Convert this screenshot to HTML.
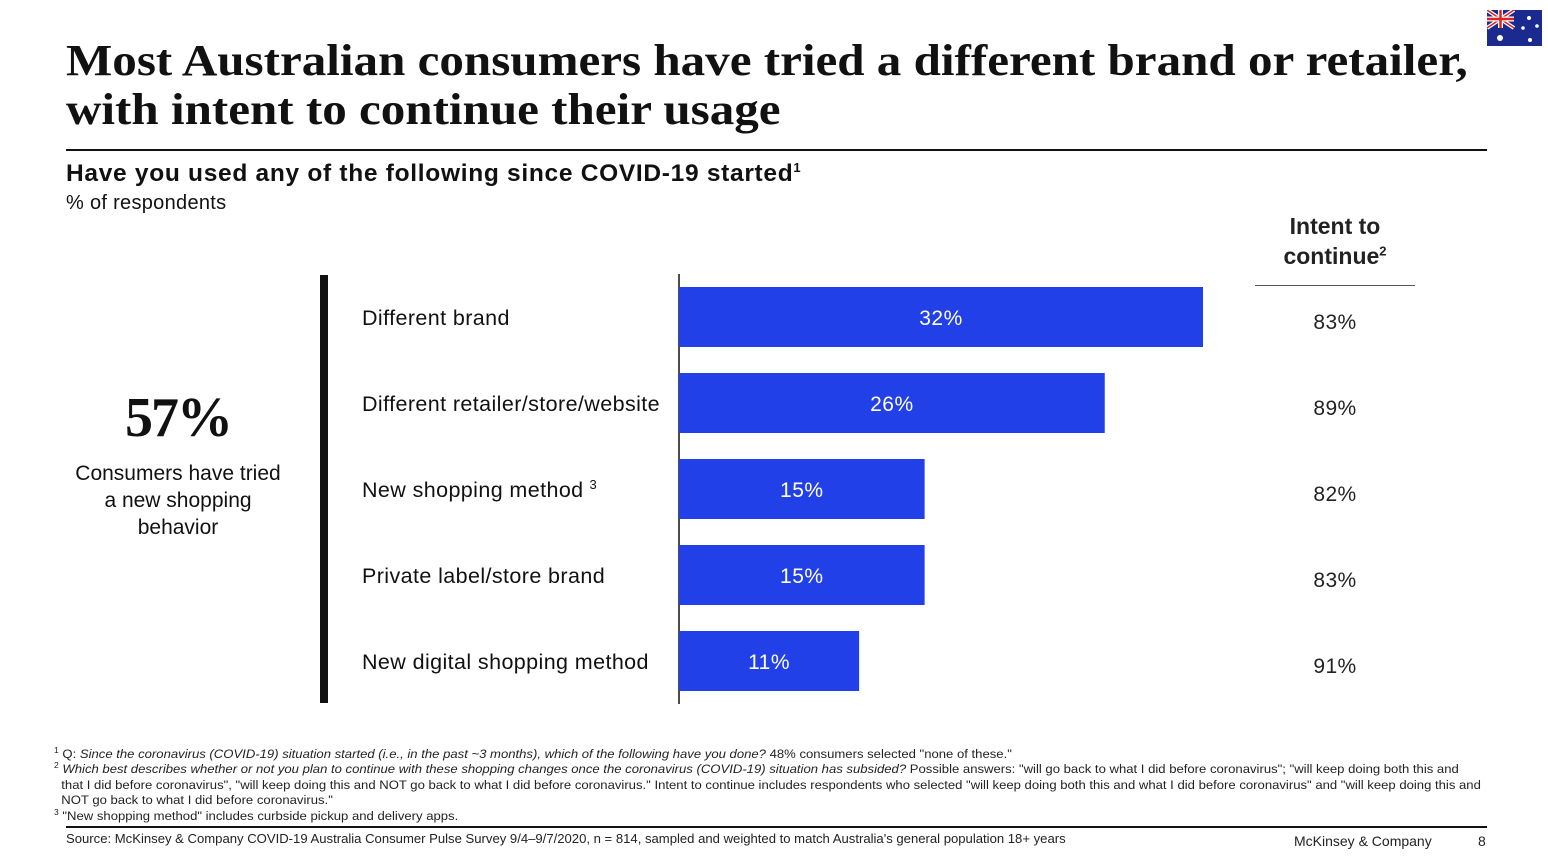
<!DOCTYPE html>
<html><head><meta charset="utf-8"><style>
body{margin:0;width:1548px;height:864px;background:#fff;position:relative;overflow:hidden;font-family:"Liberation Sans",Arial,sans-serif;color:#111}
.a{position:absolute;white-space:nowrap}
.title{left:66px;top:36px;font-family:"Liberation Serif",serif;font-weight:bold;font-size:44px;line-height:49px;color:#111;transform:scaleX(1.115);transform-origin:left top}
.fn{font-size:12.3px;line-height:15.5px;color:#222;letter-spacing:0;transform:scaleX(1.065);transform-origin:left top}
</style></head><body>
<div class="a title">Most Australian consumers have tried a different brand or retailer,<br>with intent to continue their usage</div>
<svg class="a" style="left:1487px;top:10px" width="55" height="36">
<rect width="55" height="36" fill="#1b2a8f"/>
<path d="M0 0L27 18M27 0L0 18" stroke="#fff" stroke-width="4"/>
<path d="M0 0L27 18M27 0L0 18" stroke="#d22" stroke-width="1.5"/>
<path d="M13.5 0V18M0 9H27" stroke="#fff" stroke-width="5"/>
<path d="M13.5 0V18M0 9H27" stroke="#d22" stroke-width="2.5"/>
<circle cx="13" cy="28" r="3" fill="#fff"/><circle cx="42" cy="8" r="2" fill="#fff"/><circle cx="36" cy="18" r="1.8" fill="#fff"/><circle cx="50" cy="16" r="1.8" fill="#fff"/><circle cx="43" cy="30" r="2" fill="#fff"/>
</svg>
<div class="a" style="left:66px;top:149px;width:1421px;height:1.5px;background:#111"></div>
<div class="a" style="left:66px;top:160px;font-size:24.5px;font-weight:bold;letter-spacing:0.7px">Have you used any of the following since COVID-19 started<sup style="font-size:13px">1</sup></div>
<div class="a" style="left:66px;top:192px;font-size:20px;letter-spacing:0.3px">% of respondents</div>
<div class="a" style="left:1256px;top:211px;width:158px;text-align:center;font-size:23px;font-weight:bold;line-height:30px;color:#222;white-space:normal">Intent to continue<sup style="font-size:13px;line-height:0">2</sup></div>
<div class="a" style="left:1255px;top:285px;width:160px;height:1px;background:#555"></div>
<div class="a" style="left:66px;top:386px;width:224px;text-align:center;font-family:'Liberation Serif',serif;font-weight:bold;font-size:56px;letter-spacing:-2px">57%</div>
<div class="a" style="left:66px;top:460px;width:224px;text-align:center;font-size:21px;line-height:27px;white-space:normal">Consumers have tried<br>a new shopping<br>behavior</div>
<div class="a" style="left:320px;top:275px;width:8px;height:428px;background:#111"></div>
<svg id="ch" class="a" style="left:0;top:0" width="1548" height="864"></svg>
<div class="a fn" style="left:54px;top:743px"><sup style="font-size:8px">1</sup> Q: <i>Since the coronavirus (COVID-19) situation started (i.e., in the past ~3 months), which of the following have you done?</i> 48% consumers selected "none of these."</div>
<div class="a fn" style="left:54px;top:758px"><sup style="font-size:8px">2</sup> <i>Which best describes whether or not you plan to continue with these shopping changes once the coronavirus (COVID-19) situation has subsided?</i> Possible answers: "will go back to what I did before coronavirus"; "will keep doing both this and<br>&nbsp; that I did before coronavirus", "will keep doing this and NOT go back to what I did before coronavirus." Intent to continue includes respondents who selected "will keep doing both this and what I did before coronavirus" and "will keep doing this and<br>&nbsp; NOT go back to what I did before coronavirus."</div>
<div class="a fn" style="left:54px;top:805px"><sup style="font-size:8px">3</sup> "New shopping method" includes curbside pickup and delivery apps.</div>
<div class="a" style="left:66px;top:826px;width:1421px;height:1.5px;background:#111"></div>
<div class="a" style="left:66px;top:831px;font-size:13.1px;color:#222">Source: McKinsey &amp; Company COVID-19 Australia Consumer Pulse Survey 9/4–9/7/2020, n = 814, sampled and weighted to match Australia's general population 18+ years</div>
<div class="a" style="left:1294px;top:833px;font-size:14px;color:#222">McKinsey &amp; Company</div>
<div class="a" style="left:1478px;top:833px;font-size:14px;color:#222">8</div>
<script>
const categories=["Different brand","Different retailer/store/website","New shopping method","Private label/store brand","New digital shopping method"];
const usage=[32,26,15,15,11];
const intent=[83,89,82,83,91];
const ns="http://www.w3.org/2000/svg";
const svg=document.getElementById('ch');
const x0=679,pxPer=524/32,y0=317,step=86,bh=60;
const xs=v=>x0+v*pxPer;
const ys=i=>y0+i*step;
function mk(t,a){const e=document.createElementNS(ns,t);for(const k in a)e.setAttribute(k,a[k]);svg.appendChild(e);return e;}
const ax=mk('line',{x1:x0,x2:x0,y1:274,y2:704,stroke:'#111','stroke-width':1.5});


categories.forEach((c,i)=>{
  const y=ys(i);
  const r=mk('rect',{x:x0,y:y-bh/2,width:xs(usage[i])-x0,height:bh,fill:'#2140e8'});
  
  
  const l=mk('text',{x:362,y:y+8,'font-size':21.5,'letter-spacing':0.4,fill:'#111','font-family':'Liberation Sans, sans-serif'});
  l.textContent=c;
  if(i===2){const s=document.createElementNS(ns,'tspan');s.setAttribute('dy',-8);s.setAttribute('font-size',13);s.setAttribute('dx',6);s.textContent='3';l.appendChild(s);}
  
  
  const v=mk('text',{x:(x0+xs(usage[i]))/2,y:y+8,'font-size':21,'letter-spacing':0.5,fill:'#fff','text-anchor':'middle','font-family':'Liberation Sans, sans-serif'});
  v.textContent=usage[i]+'%';
  
  
  const t=mk('text',{x:1335,y:y+12,'font-size':21,'letter-spacing':0.4,fill:'#222','text-anchor':'middle','font-family':'Liberation Sans, sans-serif'});
  t.textContent=intent[i]+'%';
  
  
});
</script>
</body></html>
